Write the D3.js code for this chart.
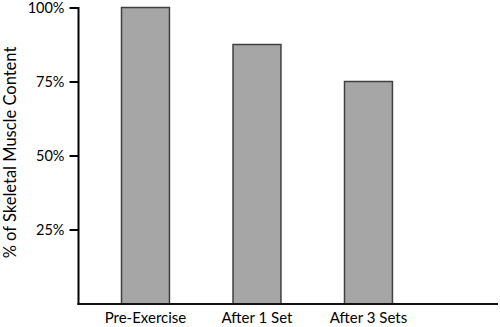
<!DOCTYPE html>
<html>
<head>
<meta charset="utf-8">
<script src="https://cdn.jsdelivr.net/npm/d3@7"></script>
<style>
  html, body { margin: 0; padding: 0; background: #fff; }
  svg { display: block; font-family: Lato, "Open Sans", sans-serif; }
</style>
</head>
<body>
<svg id="chart" width="500" height="327"></svg>
<script>
// Skeletal muscle content relative to baseline
const categories = ["Pre-Exercise", "After 1 Set", "After 3 Sets"];
const values = [100, 87.5, 75];
const tickValues = [25, 50, 75, 100];

const svg = d3.select("#chart");

const axisX = 78.5, axisRight = 498, baseY = 304;

const y = d3.scaleLinear().domain([0, 100]).range([303.5, 7.5]);
const x = d3.scaleBand()
  .domain(categories)
  .range([65.75, 448.2])
  .paddingInner(0.57)
  .paddingOuter(0.5);

// bars
svg.append("g").selectAll("rect")
  .data(values)
  .join("rect")
  .attr("x", (d, i) => x(categories[i]))
  .attr("width", x.bandwidth())
  .attr("y", d => y(d))
  .attr("height", d => baseY - y(d))
  .attr("fill", "#a6a6a6")
  .attr("stroke", "#404040")
  .attr("stroke-width", 1.5);

// y axis
const yAxis = d3.axisLeft(y)
  .tickValues(tickValues)
  .tickSize(9)
  .tickPadding(5)
  .tickFormat(d => d + "%");
const gy = svg.append("g")
  .attr("transform", `translate(${axisX},0)`)
  .call(yAxis);
gy.select(".domain").remove();
gy.selectAll(".tick line").attr("stroke", "#000").attr("stroke-width", 2);
gy.selectAll(".tick text")
  .attr("fill", "#000")
  .attr("dy", "0.36em")
  .style("font-size", "14.5px")
  .style("font-family", "Lato, 'Open Sans', sans-serif");

svg.append("line")
  .attr("x1", axisX).attr("x2", axisX)
  .attr("y1", 7).attr("y2", baseY + 1)
  .attr("stroke", "#000").attr("stroke-width", 2);

// x axis
svg.append("line")
  .attr("x1", axisX - 1).attr("x2", axisRight)
  .attr("y1", baseY).attr("y2", baseY)
  .attr("stroke", "#111").attr("stroke-width", 2.2);

svg.append("g").selectAll("text")
  .data(categories)
  .join("text")
  .attr("x", d => x(d) + x.bandwidth() / 2)
  .attr("y", 323)
  .attr("text-anchor", "middle")
  .style("font-size", "15px")
  .attr("fill", "#000")
  .text(d => d);

// y title
svg.append("text")
  .attr("transform", "translate(16,152.5) rotate(-90)")
  .attr("text-anchor", "middle")
  .style("font-size", "16.5px")
  .attr("fill", "#000")
  .text("% of Skeletal Muscle Content");
</script>
</body>
</html>
